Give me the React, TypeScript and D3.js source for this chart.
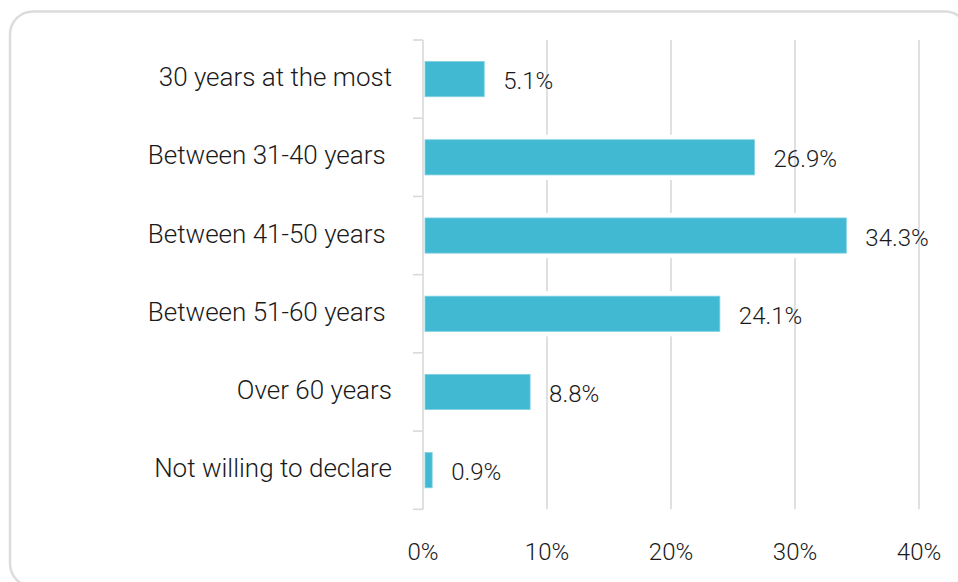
import React from "react";
import * as d3 from "d3";

const categories = [
  "30 years at the most",
  "Between 31-40 years ",
  "Between 41-50 years ",
  "Between 51-60 years ",
  "Over 60 years",
  "Not willing to declare",
];
const values = [5.1, 26.9, 34.3, 24.1, 8.8, 0.9];
const valueLabels = ["5.1%", "26.9%", "34.3%", "24.1%", "8.8%", "0.9%"];
const xTicks = [0, 10, 20, 30, 40];
const xTickLabels = ["0%", "10%", "20%", "30%", "40%"];

const W = 958;
const H = 582;
const FONT = "Roboto, 'Noto Sans', sans-serif";
const BAR = "#42b9d3";
const GRID = "#d9d9d9";
const TEXT = "#1a1a1a";

export default function App() {
  const x = d3.scaleLinear().domain([0, 40]).range([423, 919]);
  const y = d3
    .scaleBand<string>()
    .domain(categories)
    .range([40, 509.3])
    .paddingInner(0.55)
    .paddingOuter(0.275);
  const step = y.step();
  const top = y.range()[0];
  const boundaries = d3.range(categories.length + 1).map((i) => top + i * step);
  const fsCat = 26;
  const fsNum = 24;

  return (
    <svg
      width={W}
      height={H}
      style={{ position: "absolute", left: 0, top: 0, background: "#fff" }}
      fontFamily={FONT}
      fontWeight={300}
    >
      <rect x={10} y={11.5} width={958} height={575} rx={23} ry={23} fill="#fff" stroke="#dcdcdc" strokeWidth={2.5} />
      {xTicks.filter((t) => t > 0).map((t) => (
        <line key={t} x1={x(t)} x2={x(t)} y1={top} y2={boundaries[boundaries.length - 1]} stroke={GRID} strokeWidth={1.6} />
      ))}
      <line x1={x(0)} x2={x(0)} y1={top} y2={boundaries[boundaries.length - 1]} stroke={GRID} strokeWidth={1.6} />
      {boundaries.map((b, i) => (
        <line key={i} x1={x(0) - 10} x2={x(0)} y1={b} y2={b} stroke={GRID} strokeWidth={1.6} />
      ))}
      {categories.map((c, i) => {
        const y0 = y(c)!;
        const bw = y.bandwidth();
        const x0 = x(0) + 2;
        const w = Math.max(0, x(values[i]) - x(0) - 4);
        return (
          <g key={c}>
            <rect x={x0} y={y0 - 5} width={w} height={bw + 10} fill="#fff" />
            <rect x={x0} y={y0} width={w} height={bw} fill={BAR} stroke="#7fd0e2" strokeWidth={0.8} />
            <text x={x(values[i]) + 17} y={y0 + bw / 2 + 10} fontSize={fsNum} fill={TEXT}>
              {valueLabels[i]}
            </text>
            <text
              x={392}
              y={y0 + bw / 2 + 7}
              fontSize={fsCat}
              fill={TEXT}
              textAnchor="end"
              style={{ whiteSpace: "pre" }}
            >
              {c}
            </text>
          </g>
        );
      })}
      {xTicks.map((t, i) => (
        <text key={t} x={x(t)} y={560} fontSize={fsNum} fill={TEXT} textAnchor="middle">
          {xTickLabels[i]}
        </text>
      ))}
    </svg>
  );
}
